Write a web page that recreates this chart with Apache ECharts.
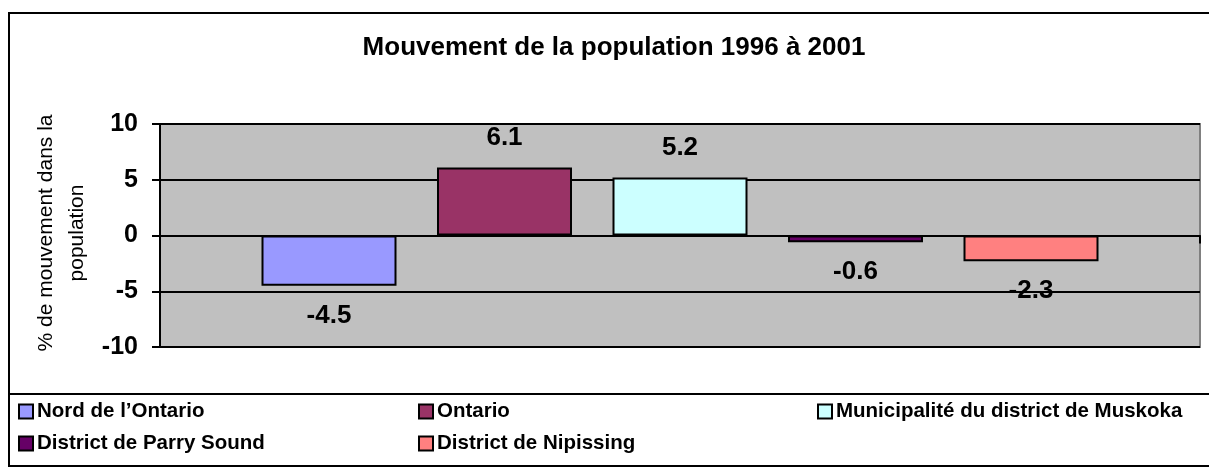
<!DOCTYPE html>
<html>
<head>
<meta charset="utf-8">
<script src="https://cdn.jsdelivr.net/npm/echarts@6/dist/echarts.min.js"></script>
<style>
html,body{margin:0;padding:0;background:#fff;}
#chart{width:1209px;height:470px;}
</style>
</head>
<body>
<div id="chart"></div>
<script>
const title = 'Mouvement de la population 1996 à 2001';
const yAxisTitle = '% de mouvement dans la\npopulation';
const seriesNames = ['Nord de l\u2019Ontario', 'Ontario', 'Municipalité du district de Muskoka', 'District de Parry Sound', 'District de Nipissing'];
const seriesValues = [-4.5, 6.1, 5.2, -0.6, -2.3];
const seriesColors = ['#9999FF', '#993366', '#CCFFFF', '#660066', '#FF8080'];
const yTicks = { min: -10, max: 10, interval: 5 };

const chart = echarts.init(document.getElementById('chart'));

const series = seriesNames.map((name, i) => ({
  name: name,
  type: 'bar',
  data: [seriesValues[i]],
  barWidth: 135,
  barGap: '30%',
  itemStyle: { color: seriesColors[i], borderColor: '#000', borderWidth: 2 },
  label: {
    show: true,
    position: seriesValues[i] < 0 ? 'bottom' : 'top',
    distance: 17,
    formatter: p => p.value.toFixed(1),
    fontFamily: 'Arial, Liberation Sans',
    fontWeight: 'bold',
    fontSize: 26,
    color: '#000'
  },
  emphasis: { disabled: true },
  animation: false
}));

const legendPos = [
  { left: 18, top: 401 },
  { left: 418, top: 401 },
  { left: 817, top: 401 },
  { left: 18, top: 433 },
  { left: 418, top: 433 }
];

const legends = seriesNames.map((name, i) => ({
  data: [name],
  left: legendPos[i].left,
  top: legendPos[i].top,
  padding: 0,
  icon: 'rect',
  itemWidth: 14,
  itemHeight: 14,
  itemGap: 0,
  selectedMode: false,
  itemStyle: { borderColor: '#000', borderWidth: 2 },
  textStyle: { fontFamily: 'Arial, Liberation Sans', fontWeight: 'bold', fontSize: 20.5, color: '#000', padding: [0, 0, 0, -1] }
}));

chart.setOption({
  animation: false,
  backgroundColor: '#fff',
  title: {
    text: title,
    left: 609,
    top: 30,
    textAlign: 'center',
    textStyle: { fontFamily: 'Arial, Liberation Sans', fontWeight: 'bold', fontSize: 26, color: '#000' }
  },
  grid: {
    left: 160, right: 9, top: 124, bottom: 123,
    show: true, backgroundColor: '#C0C0C0', borderColor: '#808080', borderWidth: 2,
    containLabel: false
  },
  xAxis: {
    type: 'category',
    data: [''],
    axisLine: { show: true, onZero: true, lineStyle: { color: '#000', width: 2 } },
    axisTick: { show: true, length: 8, lineStyle: { color: '#000', width: 2 } },
    axisLabel: { show: false },
    splitLine: { show: false }
  },
  yAxis: {
    type: 'value',
    min: yTicks.min, max: yTicks.max, interval: yTicks.interval,
    axisLine: { show: true, lineStyle: { color: '#000', width: 2 } },
    axisTick: { show: true, length: 8, lineStyle: { color: '#000', width: 2 } },
    axisLabel: { margin: 22, fontFamily: 'Arial, Liberation Sans', fontWeight: 'bold', fontSize: 25, color: '#000' },
    splitLine: { show: true, lineStyle: { color: '#000', width: 2 } }
  },
  legend: legends,
  series: series,
  graphic: [
    { type: 'rect', shape: { x: 9, y: 13, width: 1220, height: 453 }, style: { fill: 'none', stroke: '#000', lineWidth: 2 }, z: 100, silent: true },
    { type: 'line', shape: { x1: 9, y1: 394, x2: 1209, y2: 394 }, style: { stroke: '#000', lineWidth: 2 }, z: 100, silent: true },
    { type: 'text', x: 62, y: 233, rotation: Math.PI / 2, silent: true,
      style: { text: yAxisTitle, fontFamily: 'Arial, Liberation Sans', fontSize: 21, lineHeight: 31, fill: '#000', align: 'center', verticalAlign: 'middle' } }
  ]
});
</script>
</body>
</html>
